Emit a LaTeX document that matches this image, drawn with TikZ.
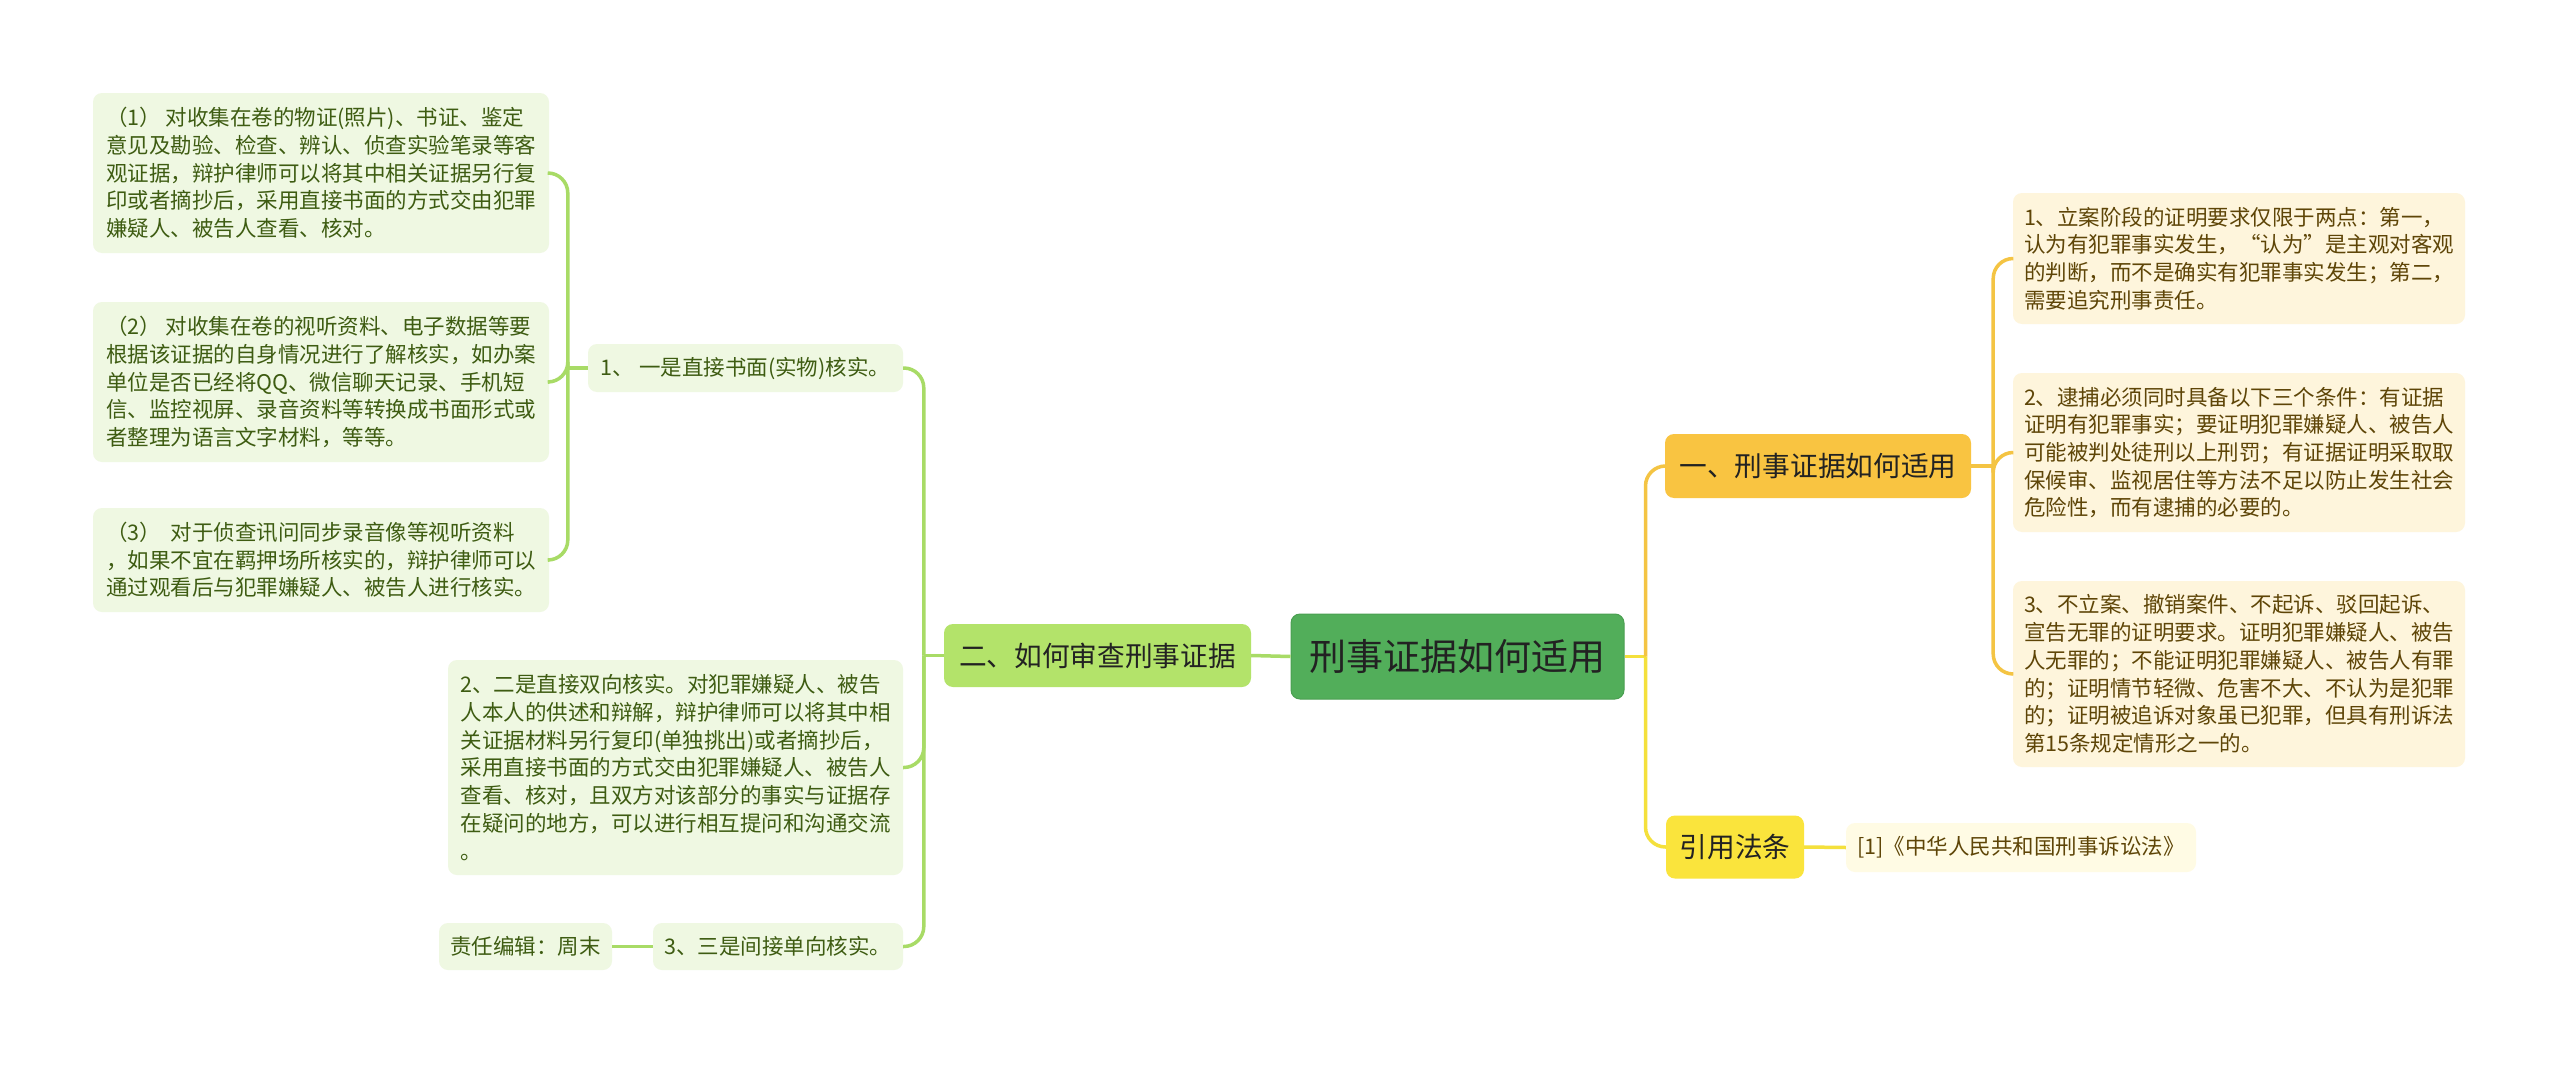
\documentclass[tikz,border=0pt]{standalone}
\usepackage{fontspec}
\usepackage{xcolor}
\usepackage{tikz}
\usetikzlibrary{calc,positioning}
\setmainfont{Noto Sans CJK SC}
\definecolor{body}{HTML}{222222}
\definecolor{rootgreen}{HTML}{52AE5A}
\definecolor{rootedge}{HTML}{4A9F51}
\definecolor{branchgreen}{HTML}{B3E36A}
\definecolor{leafgreen}{HTML}{EFF8E2}
\definecolor{leafgreentext}{HTML}{3E5C12}
\definecolor{linegreen}{HTML}{A8DB66}
\definecolor{gold}{HTML}{F9C441}
\definecolor{goldline}{HTML}{F4C443}
\definecolor{leafgold}{HTML}{FEF5DC}
\definecolor{leafgoldtext}{HTML}{5E4507}
\definecolor{lemon}{HTML}{FAE43C}
\definecolor{lemonline}{HTML}{F4E03C}
\definecolor{leaflemon}{HTML}{FFFBE4}
\tikzset{
  box/.style={rounded corners=9pt, inner sep=0pt, align=left},
  rootbox/.style={box, fill=rootgreen, draw=rootedge, line width=1pt, text=body,
    font=\fontsize{37}{44}\selectfont, minimum width=333pt, minimum height=85pt},
  midbox/.style={box, text=body, font=\fontsize{27.7}{33}\selectfont, minimum height=63pt},
  gleaf/.style={box, fill=leafgreen, text=leafgreentext, font=\fontsize{21.5}{27.7}\selectfont},
  yleaf/.style={box, fill=leafgold, text=leafgoldtext, font=\fontsize{21.5}{27.7}\selectfont},
  gline/.style={draw=linegreen, line width=3.5pt, rounded corners=20pt},
  yline/.style={draw=goldline, line width=3.5pt, rounded corners=20pt},
  lline/.style={draw=lemonline, line width=3.5pt, rounded corners=20pt}
}
\begin{document}
\begin{tikzpicture}[x=1pt, y=-1pt]
  \fill[white] (0,0) rectangle (2560,1065);
  \useasboundingbox (0,0) rectangle (2560,1065);

  \node[rootbox] (root) at (1457.5,656.5) {刑事证据如何适用};

  % left side
  \node[midbox, fill=branchgreen, minimum width=307pt] (er) at (1097.5,655.5) {二、如何审查刑事证据};
  \node[gleaf, minimum width=315pt, minimum height=48pt] (one) at (745.5,368) {1、 一是直接书面(实物)核实。};
  \node[gleaf, minimum width=456pt, minimum height=160pt] (L1) at (321,173) {（1） 对收集在卷的物证(照片)、书证、鉴定\\意见及勘验、检查、辨认、侦查实验笔录等客\\观证据，辩护律师可以将其中相关证据另行复\\印或者摘抄后，采用直接书面的方式交由犯罪\\嫌疑人、被告人查看、核对。};
  \node[gleaf, minimum width=456pt, minimum height=160pt] (L2) at (321,382) {（2） 对收集在卷的视听资料、电子数据等要\\根据该证据的自身情况进行了解核实，如办案\\单位是否已经将QQ、微信聊天记录、手机短\\信、监控视屏、录音资料等转换成书面形式或\\者整理为语言文字材料，等等。};
  \node[gleaf, minimum width=456pt, minimum height=104pt] (L3) at (321,560) {（3）\ \ 对于侦查讯问同步录音像等视听资料\\，如果不宜在羁押场所核实的，辩护律师可以\\通过观看后与犯罪嫌疑人、被告人进行核实。};
  \node[gleaf, minimum width=455pt, minimum height=215pt] (two) at (675.5,767.5) {2、二是直接双向核实。对犯罪嫌疑人、被告\\人本人的供述和辩解，辩护律师可以将其中相\\关证据材料另行复印(单独挑出)或者摘抄后，\\采用直接书面的方式交由犯罪嫌疑人、被告人\\查看、核对，且双方对该部分的事实与证据存\\在疑问的地方，可以进行相互提问和沟通交流\\。};
  \node[gleaf, minimum width=250pt, minimum height=47pt] (three) at (778,946.5) {3、三是间接单向核实。};
  \node[gleaf, minimum width=173pt, minimum height=47pt] (editor) at (525.5,946.5) {责任编辑：周末};

  % right side
  \node[midbox, fill=gold, minimum width=306pt, minimum height=64pt] (yi) at (1818,466) {一、刑事证据如何适用};
  \node[yleaf, minimum width=452pt, minimum height=131pt] (r1) at (2239,258.5) {1、立案阶段的证明要求仅限于两点：第一，\\认为有犯罪事实发生，“认为”是主观对客观\\的判断，而不是确实有犯罪事实发生；第二，\\需要追究刑事责任。};
  \node[yleaf, minimum width=452pt, minimum height=159pt] (r2) at (2239,452.5) {2、逮捕必须同时具备以下三个条件：有证据\\证明有犯罪事实；要证明犯罪嫌疑人、被告人\\可能被判处徒刑以上刑罚；有证据证明采取取\\保候审、监视居住等方法不足以防止发生社会\\危险性，而有逮捕的必要的。};
  \node[yleaf, minimum width=452pt, minimum height=186pt] (r3) at (2239,674) {3、不立案、撤销案件、不起诉、驳回起诉、\\宣告无罪的证明要求。证明犯罪嫌疑人、被告\\人无罪的；不能证明犯罪嫌疑人、被告人有罪\\的；证明情节轻微、危害不大、不认为是犯罪\\的；证明被追诉对象虽已犯罪，但具有刑诉法\\第15条规定情形之一的。};
  \node[midbox, fill=lemon, minimum width=138pt] (yy) at (1735,847) {引用法条};
  \node[yleaf, fill=leaflemon, minimum width=350pt, minimum height=49pt] (ref) at (2021,847.5) {[1]《中华人民共和国刑事诉讼法》};

  % connectors
  \coordinate (gl) at ($(er.west)+(-20,0)$);
  \coordinate (gm) at ($(one.west)+(-20,0)$);
  \coordinate (yr) at ($(root.east)+(21,0)$);
  \coordinate (ys) at ($(yi.east)+(22,0)$);

  \draw[gline] (er.east) -- (root.west);
  \draw[gline] (er.west) -- (gl);
  \foreach \n in {one,two,three}
    \draw[gline] (gl) |- (\n.east);
  \draw[gline] (one.west) -- (gm);
  \foreach \n in {L1,L2,L3}
    \draw[gline] (gm) |- (\n.east);
  \draw[gline] (three.west) -- (editor.east);

  \draw[lline] (root.east) -- (yr);
  \draw[yline] (yr) |- (yi.west);
  \draw[lline] (yr) |- (yy.west);
  \draw[yline] (yi.east) -- (ys);
  \foreach \n in {r1,r2,r3}
    \draw[yline] (ys) |- (\n.west);
  \draw[lline] (yy.east) -- (ref.west);
\end{tikzpicture}
\end{document}
